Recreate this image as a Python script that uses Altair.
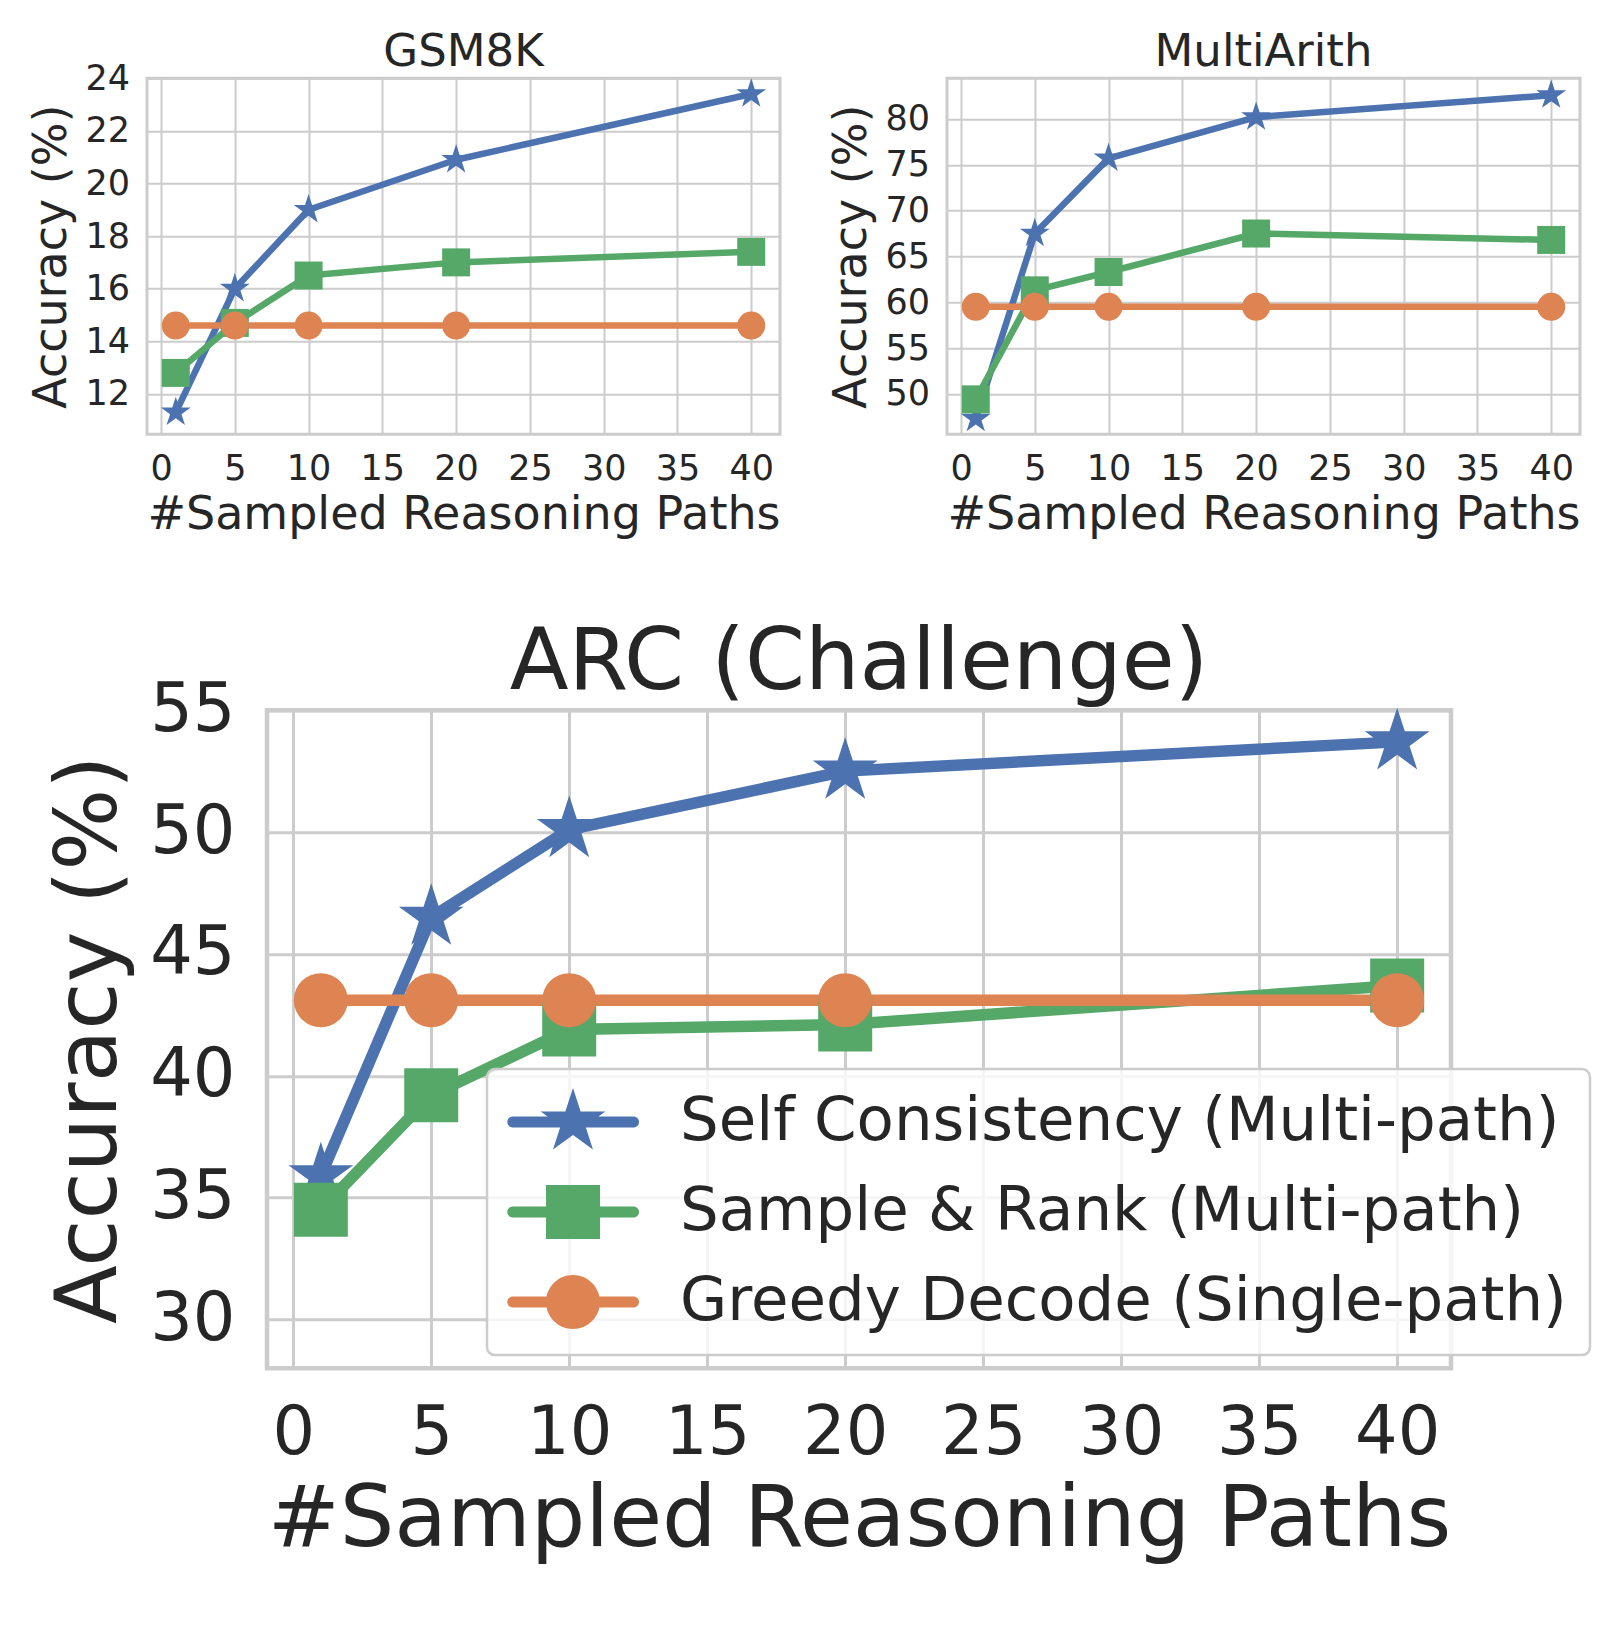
import math

import altair as alt
import pandas as pd

# Number of sampled reasoning paths (x positions shared by every panel)
PATHS = [1, 5, 10, 20, 40]

SERIES = [
    "Self Consistency (Multi-path)",
    "Sample & Rank (Multi-path)",
    "Greedy Decode (Single-path)",
]
COLORS = ["#4C72B0", "#55A868", "#DD8452"]

# Accuracy (%) per benchmark and decoding strategy
GSM8K_SC = [11.3, 16.0, 19.0, 20.9, 23.4]
GSM8K_SR = [12.8, 14.7, 16.5, 17.0, 17.4]
GSM8K_GREEDY = [14.6, 14.6, 14.6, 14.6, 14.6]

MULTIARITH_SC = [47.3, 67.5, 75.7, 80.2, 82.6]
MULTIARITH_SR = [49.4, 61.3, 63.3, 67.5, 66.8]
MULTIARITH_GREEDY = [59.5, 59.5, 59.5, 59.5, 59.5]

ARC_SC = [35.9, 46.5, 50.1, 52.5, 53.7]
ARC_SR = [34.5, 39.2, 41.9, 42.1, 43.7]
ARC_GREEDY = [43.1, 43.1, 43.1, 43.1, 43.1]

# Tick labels and axis ranges
X_TICKS = [0, 5, 10, 15, 20, 25, 30, 35, 40]
GSM8K_TICKS = [12, 14, 16, 18, 20, 22, 24]
MULTIARITH_TICKS = [50, 55, 60, 65, 70, 75, 80]
ARC_TICKS = [30, 35, 40, 45, 50, 55]

X_DOMAIN = [-0.95, 41.95]
GSM8K_DOMAIN = [10.47, 24.0]
MULTIARITH_DOMAIN = [45.6, 84.45]
ARC_DOMAIN = [28.0, 55.0]

INK = "#262626"
GRID = "#CCCCCC"
FONT = "DejaVu Sans"

# series in alphabetical order (order of the data-driven stroke/shape domains)
SORTED_IDX = sorted(range(len(SERIES)), key=lambda i: SERIES[i])


# ---- marker glyphs (unit box, scaled by Vega from the symbol size) ----
def star_path(radius, dx=0.0):
    pts = []
    for k in range(10):
        ang = math.radians(-90 + 36 * k)
        r = radius if k % 2 == 0 else radius * 0.381966
        pts.append((dx + r * math.cos(ang), r * math.sin(ang)))
    return "M" + "L".join(f"{x:.4f},{y:.4f}" for x, y in pts) + "Z"


def square_path(dx=0.0):
    return f"M{dx - 1:.4f},-1H{dx + 1:.4f}V1H{dx - 1:.4f}Z"


def circle_path(dx=0.0):
    return (f"M{dx + 1:.4f},0A1,1 0 1 1 {dx - 1:.4f},0"
            f"A1,1 0 1 1 {dx + 1:.4f},0Z")


def stroke_path(x0, x1, h):
    return (f"M{x0 + h:.4f},{-h:.4f}L{x1 - h:.4f},{-h:.4f}"
            f"A{h:.4f},{h:.4f} 0 0 1 {x1 - h:.4f},{h:.4f}"
            f"L{x0 + h:.4f},{h:.4f}"
            f"A{h:.4f},{h:.4f} 0 0 1 {x0 + h:.4f},{-h:.4f}Z")


# legend keys: a short line segment with the marker sitting on it
LEG_X0, LEG_X1, LEG_MARK, LEG_H = -1.211, 3.667, 1.222, 0.204
LEG_LINE = stroke_path(LEG_X0, LEG_X1, LEG_H)
LEG_GLYPHS = [
    LEG_LINE + star_path(1.26, LEG_MARK),
    LEG_LINE + square_path(LEG_MARK),
    LEG_LINE + circle_path(LEG_MARK),
]
LEG_EXPR = (
    f"datum.value === '{SERIES[0]}' ? '{LEG_GLYPHS[0]}' : "
    f"datum.value === '{SERIES[1]}' ? '{LEG_GLYPHS[1]}' : '{LEG_GLYPHS[2]}'"
)

SMALL = dict(w=633, h=356, tick=35, label=46, title=45, pad=17.5,
             xtitle_pad=6, ytitle_pad=9, lw=6.5, ms=28, star=1.12, grid=2,
             frame=3)
LARGE = dict(w=1184, h=658, tick=67, label=86, title=86, pad=32,
             xtitle_pad=11, ytitle_pad=16, lw=11.5, ms=54, star=1.26, grid=3,
             frame=4.5)


def panel(title, sc, sr, greedy, y_domain, y_ticks, st, title_offset,
          legend=None):
    n = len(PATHS)
    df = pd.DataFrame({
        "paths": PATHS * 3,
        "accuracy": sc + sr + greedy,
        "method": [SERIES[0]] * n + [SERIES[1]] * n + [SERIES[2]] * n,
    })
    axis_style = dict(
        grid=True, gridColor=GRID, gridWidth=st["grid"], domain=False,
        ticks=False, tickSize=0, labelFont=FONT, labelFontSize=st["tick"],
        labelColor=INK, labelPadding=st["pad"], labelFlush=False,
        labelOverlap=False, titleFont=FONT, titleFontSize=st["label"],
        titleFontWeight="normal", titleColor=INK,
    )
    x = alt.X(
        "paths:Q",
        scale=alt.Scale(domain=X_DOMAIN, nice=False, zero=False),
        axis=alt.Axis(values=X_TICKS, title="#Sampled Reasoning Paths",
                      titlePadding=st["xtitle_pad"], **axis_style),
    )
    y = alt.Y(
        "accuracy:Q",
        scale=alt.Scale(domain=y_domain, nice=False, zero=False),
        axis=alt.Axis(values=y_ticks, title="Accuracy (%)",
                      titlePadding=st["ytitle_pad"], **axis_style),
    )
    shapes = [star_path(st["star"]), "square", "circle"]
    base = alt.Chart(df).encode(x=x, y=y)
    lines = base.mark_line(strokeWidth=st["lw"], strokeJoin="round").encode(
        stroke=alt.Stroke("method:N",
                          scale=alt.Scale(range=[COLORS[i] for i in SORTED_IDX]),
                          legend=None),
    )
    points = base.mark_point(
        filled=True, opacity=1, size=st["ms"] ** 2, strokeWidth=0
    ).encode(
        color=alt.Color("method:N",
                        scale=alt.Scale(domain=SERIES, range=COLORS),
                        legend=legend),
        shape=alt.Shape("method:N",
                        scale=alt.Scale(range=[shapes[i] for i in SORTED_IDX]),
                        legend=None),
    )
    return alt.layer(lines, points).properties(
        width=st["w"],
        height=st["h"],
        title=alt.TitleParams(
            text=title, font=FONT, fontSize=st["title"], fontWeight="normal",
            color=INK, anchor="middle", frame="group",
            baseline="alphabetic", offset=title_offset,
        ),
        view=alt.ViewBackground(stroke=GRID, strokeWidth=st["frame"]),
    )


arc_legend = alt.Legend(
    title=None,
    orient="none",
    legendX=220,
    legendY=358.9,
    direction="vertical",
    fillColor="rgba(255,255,255,0.8)",
    strokeColor=GRID,
    cornerRadius=8,
    padding=22.5,
    rowPadding=28,
    labelFont=FONT,
    labelFontSize=61,
    labelColor=INK,
    labelLimit=2000,
    labelOffset=109.5,
    symbolSize=2916,
    symbolStrokeWidth=0,
    symbolOpacity=1,
    symbolType=alt.ExprRef(expr=LEG_EXPR),
)

gsm8k = panel("GSM8K", GSM8K_SC, GSM8K_SR, GSM8K_GREEDY,
              GSM8K_DOMAIN, GSM8K_TICKS, SMALL, -49.5)
multiarith = panel("MultiArith", MULTIARITH_SC, MULTIARITH_SR,
                   MULTIARITH_GREEDY, MULTIARITH_DOMAIN, MULTIARITH_TICKS,
                   SMALL, -32.8)
arc = panel("ARC (Challenge)", ARC_SC, ARC_SR, ARC_GREEDY,
            ARC_DOMAIN, ARC_TICKS, LARGE, -98.7, legend=arc_legend)

# empty placeholder that pushes the large panel to the right
spacer = alt.Chart(pd.DataFrame({"v": [0]})).mark_point(opacity=0).encode(
    x=alt.X("v:Q", axis=None), y=alt.Y("v:Q", axis=None)
).properties(width=100, height=10,
             view=alt.ViewBackground(strokeOpacity=0))

RESOLVE = dict(color="independent", shape="independent", stroke="independent")

top = alt.hconcat(gsm8k, multiarith, spacing=167, bounds="flush") \
    .resolve_scale(**RESOLVE)
bottom = alt.hconcat(spacer, arc, spacing=20, bounds="flush") \
    .resolve_scale(**RESOLVE)

chart = (
    alt.vconcat(top, bottom, spacing=632, bounds="flush")
    .resolve_scale(**RESOLVE)
    .properties(padding={"left": 27, "top": 28.2, "right": 2, "bottom": 2},
                background="white")
    .configure(font=FONT)
    .configure_legend(strokeWidth=2.5)
)

chart.save("out.html", embed_options={"renderer": "svg", "actions": False})
